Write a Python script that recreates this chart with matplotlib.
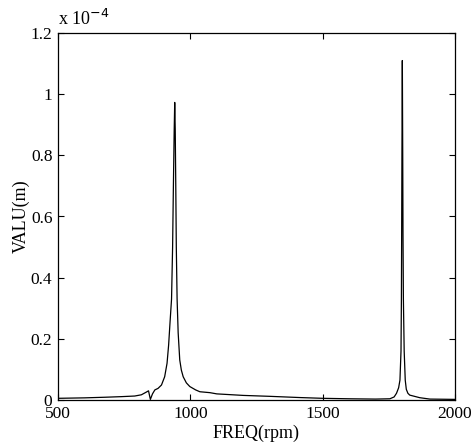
import matplotlib
matplotlib.use('Agg')
import matplotlib.pyplot as plt

plt.rcParams['font.family'] = ['Liberation Serif', 'DejaVu Serif']

# 频率 (rpm) 和幅值 (x 1e-4 m)
freq = [500, 600, 677, 740, 790, 815, 834, 842, 849, 857, 866, 878, 891,
        903, 912, 918, 923, 929, 933, 936, 939, 941, 943, 945, 947, 950,
        954, 960, 966, 973, 985, 998, 1020, 1036, 1074, 1100, 1200, 1300,
        1414, 1500, 1600, 1700, 1754, 1770, 1779, 1787, 1792, 1796, 1797.5,
        1798.5, 1799.5, 1801, 1802.5, 1803.5, 1805, 1808, 1812, 1816, 1822,
        1829, 1867, 1905, 2000]
valu = [0.0055, 0.007, 0.009, 0.011, 0.013, 0.017, 0.026, 0.030, 0.002, 0.020,
        0.033, 0.038, 0.049, 0.076, 0.12, 0.18, 0.25, 0.33, 0.50, 0.70, 0.88,
        0.973, 0.88, 0.70, 0.50, 0.33, 0.22, 0.131, 0.098, 0.076, 0.056, 0.044,
        0.033, 0.027, 0.024, 0.020, 0.015, 0.012, 0.008, 0.0055, 0.004, 0.003,
        0.004, 0.010, 0.022, 0.040, 0.065, 0.16, 0.33, 0.55, 0.80, 1.11, 0.80,
        0.55, 0.33, 0.16, 0.065, 0.035, 0.022, 0.016, 0.0075, 0.003, 0.002]

xticks = [500, 1000, 1500, 2000]
yticks = [0, 0.2, 0.4, 0.6, 0.8, 1, 1.2]
ylabels = ['0', '0.2', '0.4', '0.6', '0.8', '1', '1.2']

fig = plt.figure(figsize=(4.75, 4.44), dpi=100)
ax = fig.add_axes([58/475, 44/444, 397/475, 367/444])

ax.plot(freq, valu, color='k', lw=0.9)

ax.set_xlim(500, 2000)
ax.set_ylim(0, 1.2)
ax.set_xticks(xticks)
ax.set_xticklabels([str(t) for t in xticks])
ax.set_yticks(yticks)
ax.set_yticklabels(ylabels)
ax.tick_params(direction='in', length=4, top=True, right=True, labelsize=12.5, pad=4)
for s in ax.spines.values():
    s.set_linewidth(0.9)

ax.set_xlabel('FREQ(rpm)', fontsize=13, labelpad=2)
ax.set_ylabel('VALU(m)', fontsize=13, labelpad=1)
ax.text(0, 1.01, r'x 10$^{-4}$', transform=ax.transAxes, fontsize=13,
        ha='left', va='bottom')

plt.savefig('out.png', dpi=100)
